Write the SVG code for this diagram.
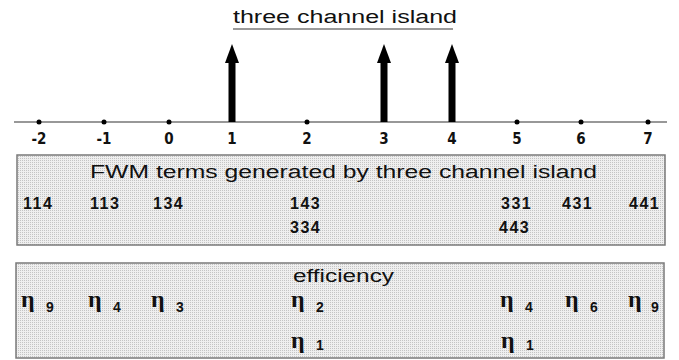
<svg xmlns="http://www.w3.org/2000/svg" width="679" height="360" viewBox="0 0 679 360">
<defs>
<pattern id="dots" width="2" height="2" patternUnits="userSpaceOnUse">
<rect width="2" height="2" fill="#efefef"/>
<rect width="1" height="1" fill="#c4c4c4"/>
</pattern>
<style>
.ax{font-family:"Liberation Sans Narrow","DejaVu Sans Condensed","Liberation Sans",sans-serif;font-weight:bold;font-size:15px;fill:#111;text-anchor:middle}
.num{font-family:"Liberation Sans",Arial,sans-serif;font-weight:bold;font-size:16px;letter-spacing:1.5px;fill:#111}
.head{font-family:"Liberation Sans",Arial,sans-serif;font-size:18px;fill:#111}
.eta{font-family:"Liberation Serif","Times New Roman",serif;font-weight:bold;font-size:24px;fill:#111}
.sub{font-family:"Liberation Sans",Arial,sans-serif;font-weight:bold;font-size:14px;fill:#111}
.dot{fill:#000}
.box{fill:url(#dots);stroke:#7a7a7a;stroke-width:1.5}
.shaft{stroke:#000;stroke-width:7}
.tip{fill:#000}
</style>
</defs>

<g id="title">
<text class="head" x="233" y="23" font-size="20" textLength="224" lengthAdjust="spacingAndGlyphs">three channel island</text>
<line x1="233" y1="29" x2="453" y2="29" stroke="#9a9a9a" stroke-width="2"/>
</g>

<g id="axis">
<line x1="14" y1="122" x2="667" y2="122" stroke="#333" stroke-width="1.2"/>
<circle class="dot" cx="39" cy="122" r="2.5"/>
<circle class="dot" cx="104" cy="122" r="2.5"/>
<circle class="dot" cx="169" cy="122" r="2.5"/>
<circle class="dot" cx="307" cy="122" r="2.5"/>
<circle class="dot" cx="517" cy="122" r="2.5"/>
<circle class="dot" cx="581" cy="122" r="2.5"/>
<circle class="dot" cx="648" cy="122" r="2.5"/>
<text class="ax" x="39" y="144">-2</text>
<text class="ax" x="104" y="144">-1</text>
<text class="ax" x="169" y="144">0</text>
<text class="ax" x="232" y="144">1</text>
<text class="ax" x="307" y="144">2</text>
<text class="ax" x="384" y="144">3</text>
<text class="ax" x="452" y="144">4</text>
<text class="ax" x="517" y="144">5</text>
<text class="ax" x="581" y="144">6</text>
<text class="ax" x="648" y="144">7</text>
</g>

<g id="connectors">
<line class="shaft" x1="232" y1="122" x2="232" y2="60"/>
<polygon class="tip" points="232,44 225,63 239,63"/>
<line class="shaft" x1="384" y1="122" x2="384" y2="60"/>
<polygon class="tip" points="384,44 377,63 391,63"/>
<line class="shaft" x1="452" y1="122" x2="452" y2="60"/>
<polygon class="tip" points="452,44 445,63 459,63"/>
</g>

<g id="fwm-box">
<rect class="box" x="17" y="155" width="648" height="90"/>
<text class="head" x="90" y="178" textLength="507" lengthAdjust="spacingAndGlyphs">FWM terms generated by three channel island</text>
<text class="num" x="23" y="209">114</text>
<text class="num" x="90" y="209">113</text>
<text class="num" x="153" y="209">134</text>
<text class="num" x="290" y="209">143</text>
<text class="num" x="501" y="209">331</text>
<text class="num" x="562" y="209">431</text>
<text class="num" x="629" y="209">441</text>
<text class="num" x="290" y="233">334</text>
<text class="num" x="499" y="233">443</text>
</g>

<g id="efficiency-box">
<rect class="box" x="16" y="263" width="648" height="95"/>
<text class="head" x="293" y="282" textLength="101" lengthAdjust="spacingAndGlyphs">efficiency</text>
<text class="eta" x="21" y="307">η</text><text class="sub" x="46" y="312">9</text>
<text class="eta" x="88" y="307">η</text><text class="sub" x="113" y="312">4</text>
<text class="eta" x="151" y="307">η</text><text class="sub" x="176" y="312">3</text>
<text class="eta" x="291" y="307">η</text><text class="sub" x="316" y="312">2</text>
<text class="eta" x="500" y="307">η</text><text class="sub" x="525" y="312">4</text>
<text class="eta" x="565" y="307">η</text><text class="sub" x="590" y="312">6</text>
<text class="eta" x="628" y="307">η</text><text class="sub" x="651" y="312">9</text>
<text class="eta" x="291" y="348">η</text><text class="sub" x="316" y="350">1</text>
<text class="eta" x="501" y="348">η</text><text class="sub" x="526" y="350">1</text>
</g>
</svg>
